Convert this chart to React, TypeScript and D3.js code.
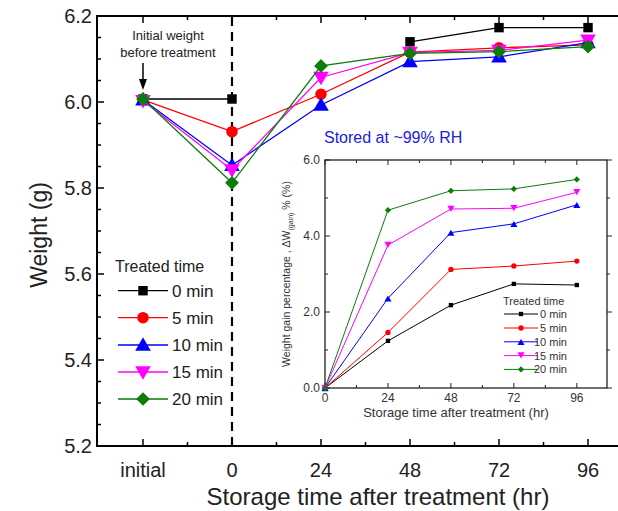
import * as d3 from 'd3';

// main plot: weight (g) at initial, 0, 24, 48, 72, 96 hr
const mainTimes = [-24, 0, 24, 48, 72, 96];
const mainTickLabels = ['initial', '0', '24', '48', '72', '96'];
const w0 = [6.007, 6.007, null, 6.14, 6.173, 6.173];
const w5 = [6.005, 5.931, 6.018, 6.116, 6.126, 6.133];
const w10 = [6.005, 5.853, 5.993, 6.094, 6.105, 6.138];
const w15 = [6.003, 5.842, 6.057, 6.115, 6.12, 6.144];
const w20 = [6.007, 5.812, 6.084, 6.113, 6.117, 6.129];

// inset: weight gain percentage
const insetTimes = [0, 24, 48, 72, 96];
const g0 = [0, 1.24, 2.18, 2.74, 2.71];
const g5 = [0, 1.46, 3.12, 3.21, 3.34];
const g10 = [0, 2.36, 4.09, 4.32, 4.82];
const g15 = [0, 3.76, 4.71, 4.73, 5.15];
const g20 = [0, 4.68, 5.19, 5.24, 5.49];

const seriesNames = ['0 min', '5 min', '10 min', '15 min', '20 min'];
const colors = ['#000000', '#ff0000', '#0000ff', '#ff00ff', '#0a7d0a'];
const mainData = [w0, w5, w10, w15, w20];
const insetData = [g0, g5, g10, g15, g20];

const FONT = 'Liberation Sans, Arial, sans-serif';

// diamond = square turned 45deg
const symbols = [d3.symbolSquare, d3.symbolCircle, d3.symbolTriangle, d3.symbolTriangle, d3.symbolSquare];
const rotations = [0, 0, 0, 180, 45];

function Marker({ i, x, y, size }: { i: number; x: number; y: number; size: number }) {
  const s = i === 0 ? size * 0.85 : i === 4 ? size * 0.9 : size;
  const path = d3.symbol().type(symbols[i]).size(s)() as string;
  const dy = i === 2 ? 1.2 : i === 3 ? -1.2 : 0;
  return (
    <path d={path} fill={colors[i]} transform={`translate(${x},${y + dy}) rotate(${rotations[i]})`} />
  );
}

export default function App() {
  const x = d3.scaleLinear().domain([-36.4, 108.4]).range([97, 634]);
  const y = d3.scaleLinear().domain([5.2, 6.2]).range([446, 16]);
  const ix = d3.scaleLinear().domain([0, 107.5]).range([325, 607]);
  const iy = d3.scaleLinear().domain([0, 6]).range([388, 160]);

  const yMajor = d3.range(5.2, 6.21, 0.2);
  const yMinor = d3.range(5.25, 6.2, 0.05).filter((v) => Math.abs(Math.round(v / 0.2) * 0.2 - v) > 0.01);
  const xMinor = [-12, 12, 36, 60, 84];

  const line = d3
    .line<[number, number | null]>()
    .defined((d) => d[1] !== null)
    .x((d) => x(d[0]))
    .y((d) => y(d[1] as number));
  const iline = d3
    .line<[number, number]>()
    .x((d) => ix(d[0]))
    .y((d) => iy(d[1]));

  const legendRows = [290.7, 317.7, 345, 372, 399];
  const insetRows = [314, 328, 341.8, 355.6, 369.4];

  return (
    <svg width={618} height={511} style={{ position: 'absolute', left: 0, top: 0, background: '#fff' }} fontFamily={FONT}>
      <rect x={0} y={0} width={618} height={511} fill="#fff" />

      {/* main frame */}
      <g stroke="#000" strokeWidth={2} fill="none">
        <line x1={97} x2={97} y1={15} y2={447} />
        <line x1={96} x2={640} y1={446} y2={446} />
        <line x1={96} x2={640} y1={16} y2={16} />
      </g>

      {/* ticks */}
      <g stroke="#000" strokeWidth={1.5}>
        {yMajor.map((v) => (
          <line key={'ym' + v} x1={97} x2={104} y1={y(v)} y2={y(v)} />
        ))}
        {yMinor.map((v) => (
          <line key={'yn' + v} x1={97} x2={101} y1={y(v)} y2={y(v)} />
        ))}
        {mainTimes.map((t) => (
          <g key={'xm' + t}>
            <line x1={x(t)} x2={x(t)} y1={446} y2={439} />
            <line x1={x(t)} x2={x(t)} y1={16} y2={23} />
          </g>
        ))}
        {xMinor.map((t) => (
          <g key={'xn' + t}>
            <line x1={x(t)} x2={x(t)} y1={446} y2={442} />
            <line x1={x(t)} x2={x(t)} y1={16} y2={20} />
          </g>
        ))}
      </g>
      <g fontSize={20} fill="#222" textAnchor="end">
        {yMajor.map((v) => (
          <text key={'yl' + v} x={92} y={y(v) + 7}>
            {d3.format('.1f')(v)}
          </text>
        ))}
      </g>
      <g fontSize={20} fill="#222" textAnchor="middle">
        {mainTimes.map((t, i) => (
          <text key={'xl' + t} x={x(t)} y={477}>
            {mainTickLabels[i]}
          </text>
        ))}
      </g>
      <text x={378} y={505} fontSize={24} textAnchor="middle" fill="#222">
        Storage time after treatment (hr)
      </text>
      <text transform="translate(47,235) rotate(-90)" fontSize={23} textAnchor="middle" fill="#222">
        Weight (g)
      </text>

      {/* dashed line at treatment */}
      <line x1={x(0)} x2={x(0)} y1={17} y2={445} stroke="#000" strokeWidth={2.2} strokeDasharray="9,6" />

      {/* annotation */}
      <text x={168} y={40} fontSize={13} textAnchor="middle" fill="#222">
        Initial weight
      </text>
      <text x={168} y={57} fontSize={13} textAnchor="middle" fill="#222">
        before treatment
      </text>
      <line x1={x(-24)} x2={x(-24)} y1={63} y2={80} stroke="#000" strokeWidth={1.5} />
      <path d={`M${x(-24) - 4},79 L${x(-24) + 4},79 L${x(-24)},90 Z`} fill="#000" />

      <text x={324} y={143} fontSize={16} fill="#2020e0">
        Stored at ~99% RH
      </text>

      {/* main series */}
      {mainData.map((vals, i) => {
        const pts = mainTimes.map((t, j) => [t, vals[j]] as [number, number | null]);
        return (
          <g key={'s' + i}>
            <path d={line(pts) as string} fill="none" stroke={colors[i]} strokeWidth={1.3} />
            {pts
              .filter((p) => p[1] !== null)
              .map((p, j) => (
                <Marker key={j} i={i} x={x(p[0])} y={y(p[1] as number)} size={105} />
              ))}
          </g>
        );
      })}

      {/* main legend */}
      <text x={115} y={272} fontSize={16} fill="#222">
        Treated time
      </text>
      {seriesNames.map((n, i) => (
        <g key={'lg' + i}>
          <line x1={118} x2={168} y1={legendRows[i]} y2={legendRows[i]} stroke={colors[i]} strokeWidth={1.3} />
          <Marker i={i} x={143} y={legendRows[i]} size={105} />
          <text x={172} y={legendRows[i] + 6} fontSize={17} fill="#222">
            {n}
          </text>
        </g>
      ))}

      {/* inset */}
      <rect x={325} y={160} width={282} height={228} fill="#fff" stroke="#222" strokeWidth={1.3} />
      <g stroke="#222" strokeWidth={1}>
        {d3.range(0, 7, 1).map((v) => (
          <g key={'iy' + v}>
            <line x1={325} x2={v % 2 === 0 ? 330 : 328} y1={iy(v)} y2={iy(v)} />
            <line x1={607} x2={v % 2 === 0 ? 612 : 610} y1={iy(v)} y2={iy(v)} />
          </g>
        ))}
        {d3.range(0, 108, 12).map((t) => (
          <g key={'ix' + t}>
            <line x1={ix(t)} x2={ix(t)} y1={388} y2={t % 24 === 0 ? 383 : 385} />
            <line x1={ix(t)} x2={ix(t)} y1={160} y2={t % 24 === 0 ? 165 : 163} />
          </g>
        ))}
      </g>
      <g fontSize={12} fill="#333" textAnchor="end">
        {d3.range(0, 7, 2).map((v) => (
          <text key={'iyl' + v} x={320} y={iy(v) + 4}>
            {d3.format('.1f')(v)}
          </text>
        ))}
      </g>
      <g fontSize={12} fill="#333" textAnchor="middle">
        {insetTimes.map((t) => (
          <text key={'ixl' + t} x={ix(t)} y={402}>
            {t}
          </text>
        ))}
      </g>
      <text x={456} y={417} fontSize={13} textAnchor="middle" fill="#333">
        Storage time after treatment (hr)
      </text>
      <text transform="translate(290,274) rotate(-90)" fontSize={10.5} textAnchor="middle" fill="#333">
        Weight gain percentage , ΔW
        <tspan fontSize={7} dy={3}>(gain)</tspan>
        <tspan dy={-3}> % (%)</tspan>
      </text>

      {insetData.map((vals, i) => {
        const pts = insetTimes.map((t, j) => [t, vals[j]] as [number, number]);
        return (
          <g key={'is' + i}>
            <path d={iline(pts) as string} fill="none" stroke={colors[i]} strokeWidth={1} />
            {pts.map((p, j) => (
              <Marker key={j} i={i} x={ix(p[0])} y={iy(p[1])} size={22} />
            ))}
          </g>
        );
      })}

      <text x={503} y={305} fontSize={11} fill="#333">
        Treated time
      </text>
      {seriesNames.map((n, i) => (
        <g key={'il' + i}>
          <line x1={504} x2={538} y1={insetRows[i]} y2={insetRows[i]} stroke={colors[i]} strokeWidth={1} />
          <Marker i={i} x={521} y={insetRows[i]} size={22} />
          <text x={567} y={insetRows[i] + 4} fontSize={11} textAnchor="end" fill="#333">
            {n}
          </text>
        </g>
      ))}
    </svg>
  );
}
